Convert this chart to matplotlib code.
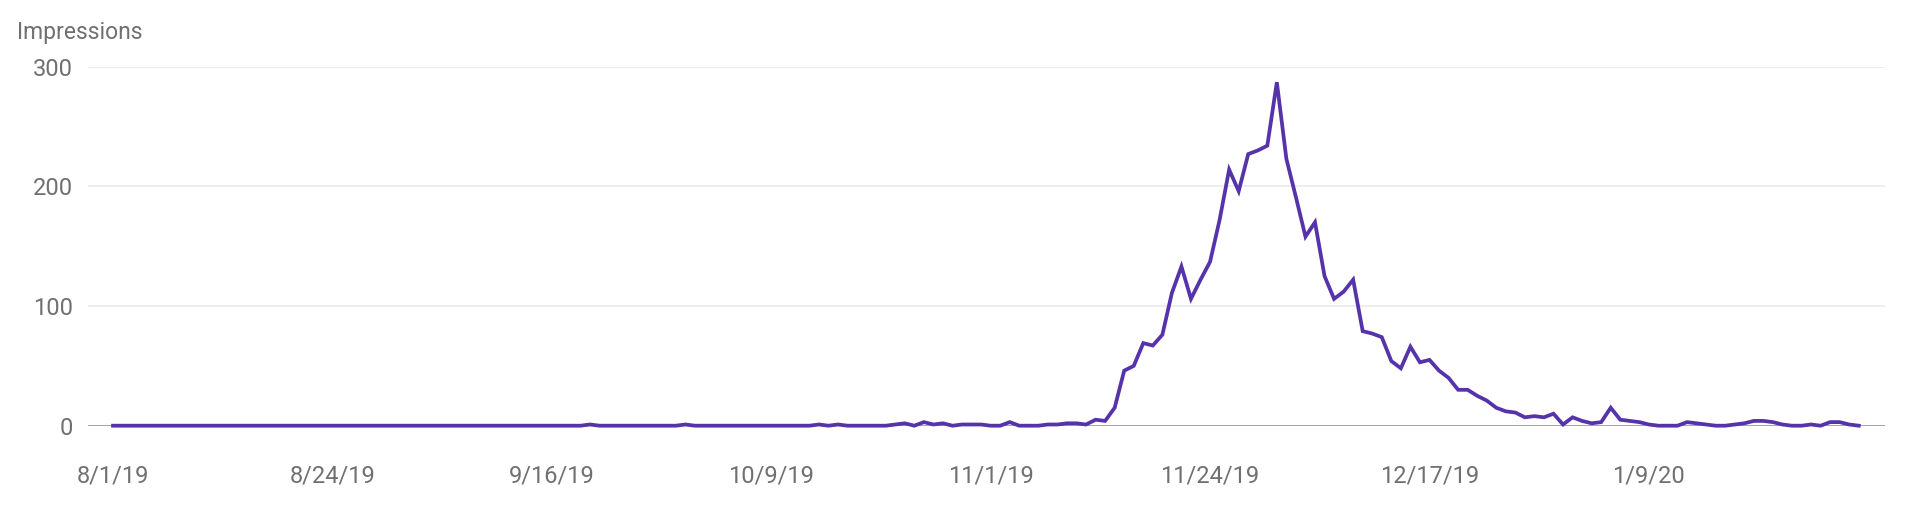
import matplotlib
matplotlib.use("Agg")
import matplotlib.pyplot as plt
import matplotlib.dates as mdates
import numpy as np
import pandas as pd

plt.rcParams['font.family'] = ['Roboto', 'DejaVu Sans']

start_date = "2019-08-01"
impressions = (
    [0] * 50 + [1] + [0] * 9 + [1] + [0] * 13 +          # days 0-73
    [1, 0, 1, 0, 0, 0, 0, 0,                              # 74-81
     1, 2, 0, 3, 1, 2, 0, 1, 1, 1, 0, 0, 3, 0, 0, 0,      # 82-97
     1, 1, 2, 2, 1, 5, 4, 15, 46, 50, 69, 67, 76, 111,    # 98-111
     133, 106, 122, 137, 172, 214, 196, 227, 230, 234,    # 112-121
     287, 223, 191, 158, 170, 125, 106, 112, 122, 79,     # 122-131
     77, 74, 54, 48, 66, 53, 55, 46, 40, 30,              # 132-141
     30, 25, 21, 15, 12, 11, 7, 8, 7, 10,                 # 142-151
     1, 7, 4, 2, 3, 15, 5, 4, 3, 1,                       # 152-161
     0, 0, 0, 3, 2, 1, 0, 0, 1, 2,                        # 162-171
     4, 4, 3, 1, 0, 0, 1, 0, 3, 3, 1, 0]                  # 172-183
)
dates = pd.date_range(start_date, periods=len(impressions), freq="D")

tick_dates = pd.to_datetime(["2019-08-01", "2019-08-24", "2019-09-16", "2019-10-09",
                             "2019-11-01", "2019-11-24", "2019-12-17", "2020-01-09"])
tick_labels = ["8/1/19", "8/24/19", "9/16/19", "10/9/19",
               "11/1/19", "11/24/19", "12/17/19", "1/9/20"]
y_ticks = [0, 100, 200, 300]
y_label = "Impressions"

fig = plt.figure(figsize=(19.2, 5.15), dpi=100)
ax = fig.add_axes([88 / 1920, (515 - 425.7) / 515, (1885 - 88) / 1920, (425.7 - 66.7) / 515])

ax.plot(dates, impressions, color="#5533aa", lw=2.7, solid_joinstyle="miter", clip_on=False, zorder=3)

x0 = mdates.date2num(dates[0])
ax.set_xlim(x0 - 2.62, x0 + 185.75)
ax.set_ylim(0, 300)

ax.set_yticks(y_ticks)
ax.set_yticklabels([str(v) for v in y_ticks])
ax.set_xticks(tick_dates)
ax.set_xticklabels(tick_labels)

ax.grid(axis="y", color="#e8e8e8", lw=1.1)
ax.grid(axis="x", visible=False)
ax.axhline(0, color="#9e9e9e", lw=1.3, zorder=2)

for s in ax.spines.values():
    s.set_visible(False)

ax.tick_params(axis="both", length=0, labelsize=17, labelcolor="#707070")
ax.tick_params(axis="y", pad=11)
ax.tick_params(axis="x", pad=28)

fig.text(17 / 1920, 1 - 33 / 515, y_label, fontsize=16.5, color="#707070", va="center", ha="left")

fig.savefig("out.png", dpi=100, facecolor="white")
